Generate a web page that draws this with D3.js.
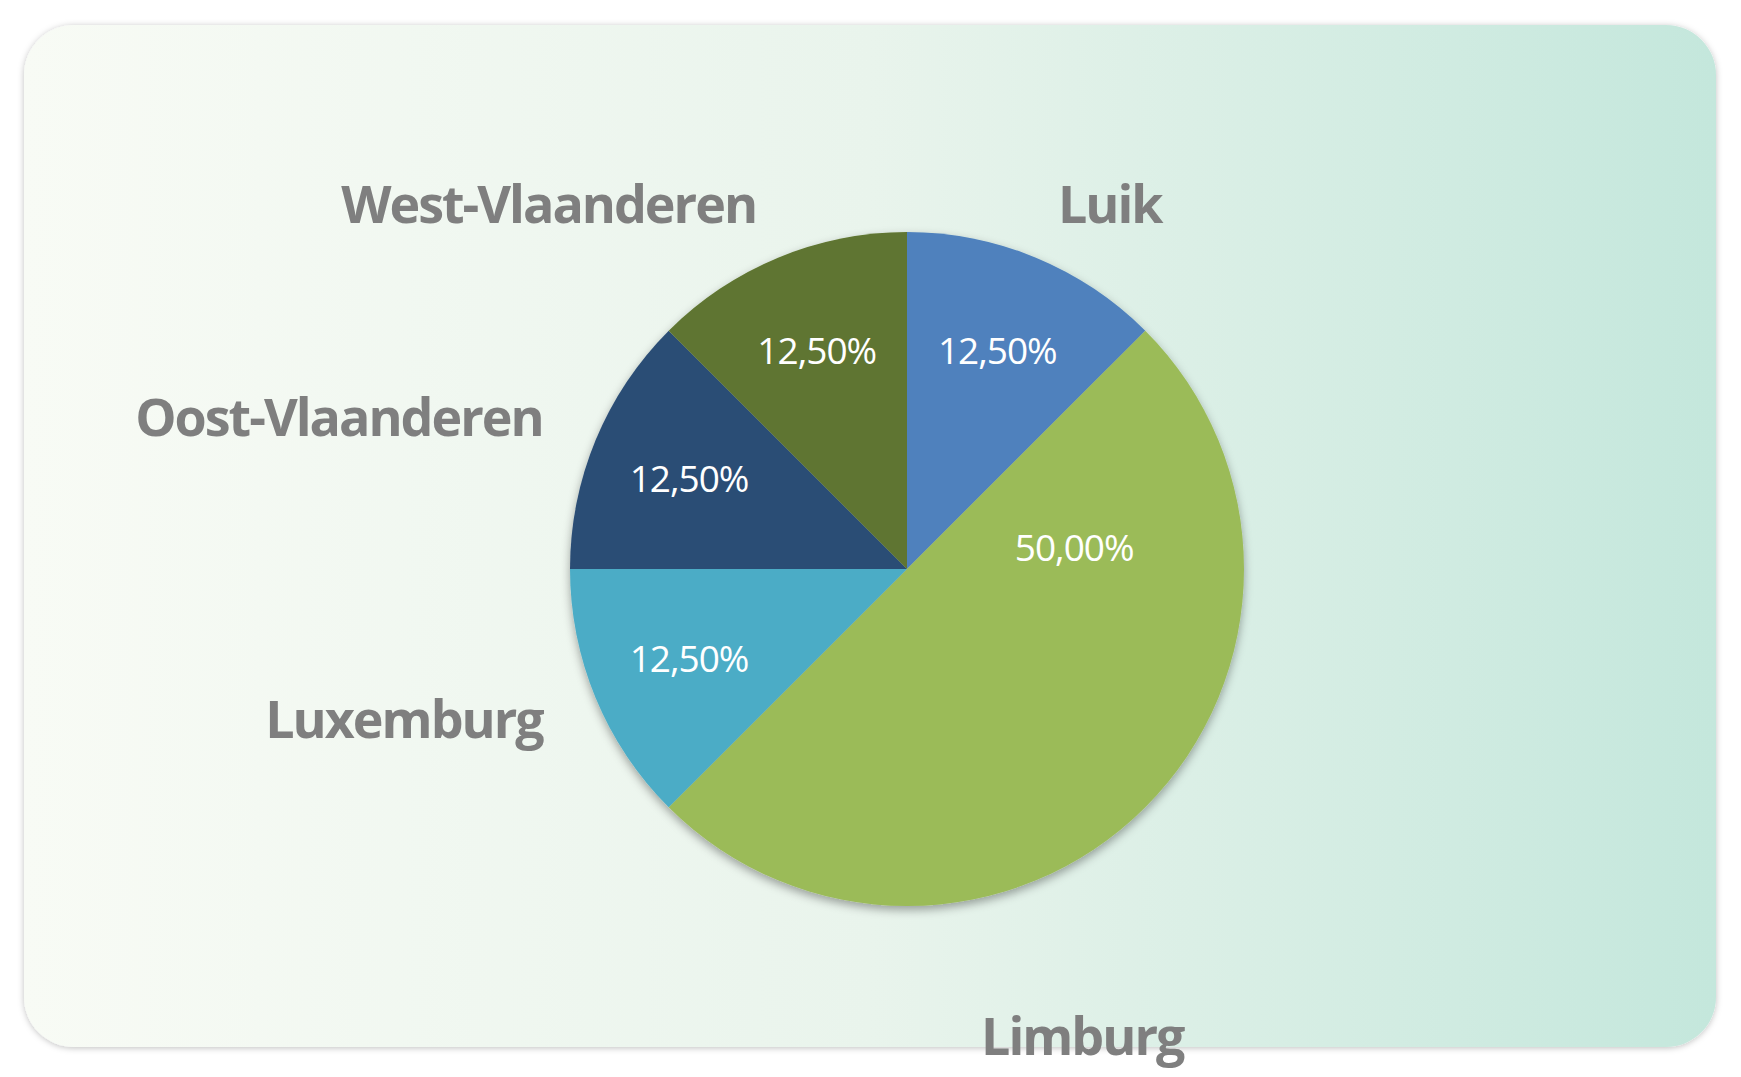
<!DOCTYPE html>
<html><head><meta charset="utf-8">
<script src="https://cdn.jsdelivr.net/npm/d3@7"></script>
<style>body{margin:0;background:#fff}</style></head>
<body><svg id="c" width="1741" height="1077"></svg>
<script>
const categories = ["Luik","Limburg","Luxemburg","Oost-Vlaanderen","West-Vlaanderen"];
const values = [12.5, 50, 12.5, 12.5, 12.5];
const colors = ["#4f81bd","#9bbb59","#4bacc6","#2c4d75","#5f7530"];

const svg = d3.select("#c");
const defs = svg.append("defs");
const g1 = defs.append("linearGradient").attr("id","bg");
g1.append("stop").attr("offset","0%").attr("stop-color","#f8fbf5");
g1.append("stop").attr("offset","50%").attr("stop-color","#e9f4ec");
g1.append("stop").attr("offset","100%").attr("stop-color","#c4e7dc");
const f = defs.append("filter").attr("id","sh").attr("x","-20%").attr("y","-20%").attr("width","140%").attr("height","140%");
f.append("feDropShadow").attr("dx",0).attr("dy",4).attr("stdDeviation",5).attr("flood-color","#000").attr("flood-opacity",0.35);
const f2 = defs.append("filter").attr("id","sh2").attr("x","-5%").attr("y","-5%").attr("width","110%").attr("height","110%");
f2.append("feDropShadow").attr("dx",0).attr("dy",1).attr("stdDeviation",3).attr("flood-color","#000").attr("flood-opacity",0.25);

svg.append("rect").attr("x",24).attr("y",25).attr("width",1692).attr("height",1022).attr("rx",50)
  .attr("fill","url(#bg)").attr("filter","url(#sh2)");

const cx = 907, cy = 569, R = 337;
const pie = d3.pie().sort(null).value(d=>d)(values);
const arc = d3.arc().innerRadius(0).outerRadius(R);
const g = svg.append("g").attr("transform",`translate(${cx},${cy})`);
g.append("g").attr("filter","url(#sh)").selectAll("path").data(pie).join("path")
  .attr("d",arc).attr("fill",(d,i)=>colors[i]);

const fmt = v => v.toFixed(2).replace(".",",") + "%";
const inArc = d3.arc().innerRadius(R*0.7).outerRadius(R*0.7);
const bigArc = d3.arc().innerRadius(R*0.48).outerRadius(R*0.48);
g.selectAll("text.p").data(pie).join("text").attr("class","p")
  .attr("transform",d=>{const a=(d.endAngle-d.startAngle)>Math.PI/2?d3.arc().innerRadius(R*0.5).outerRadius(R*0.5).startAngle(d.startAngle).endAngle(d.startAngle+Math.PI*0.42).centroid(d):inArc.centroid(d);return `translate(${a})`;})
  .attr("text-anchor","middle").attr("dy","0.35em")
  .attr("font-family","Open Sans, sans-serif").attr("font-size",37).attr("fill","#fff")
  .attr("letter-spacing",-1)
  .text(d=>fmt(d.value));

const outR = R*1.17;
g.selectAll("text.l").data(pie).join("text").attr("class","l")
  .attr("transform",d=>{
    const big=(d.endAngle-d.startAngle)>Math.PI/2;
    const a=(d.startAngle+d.endAngle)/2 + (big?Math.PI*0.2:0);
    const r= big?outR*1.2:outR;
    return `translate(${Math.sin(a)*r},${-Math.cos(a)*r})`;})
  .attr("text-anchor",d=>{const a=(d.startAngle+d.endAngle)/2;return a<Math.PI?"start":"end";})
  .attr("dy","0.35em")
  .attr("font-family","Open Sans, sans-serif").attr("font-weight","bold").attr("font-size",52)
  .attr("letter-spacing",-2).attr("fill","#7f7f7f")
  .text((d,i)=>categories[i]);
</script></body></html>
